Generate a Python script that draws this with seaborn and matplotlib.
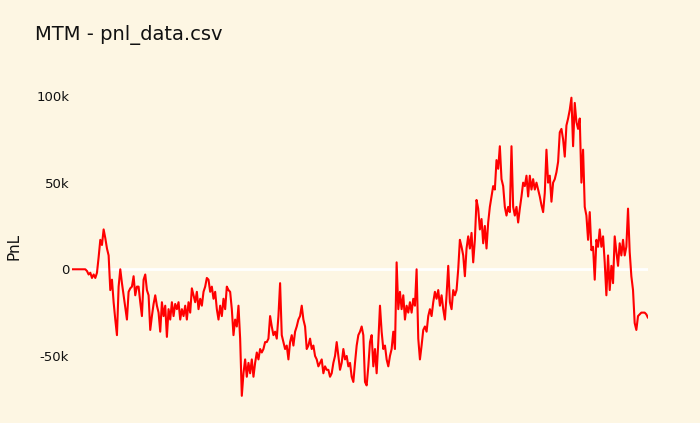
import numpy as np
import pandas as pd
import seaborn as sns
import matplotlib.pyplot as plt
from matplotlib.ticker import FuncFormatter

# PnL, in thousands, one value per step
seg1 = [0, 0, 0, 0, 0, 0, 0, 0, 0, -1, -3, -2, -5, -3, -5, -2,
        7, 17, 14, 23, 18, 12, 8, -12, -6, -19, -29, -38, -10, 0, -8,
        -15, -22, -29, -13, -11, -10, -4, -15, -10, -10, -19, -27, -6, -3, -12,
        -15, -35, -27, -20, -15, -21, -25, -36, -19, -27, -21, -39, -23, -29, -19,
        -27, -20, -23, -19, -29, -23, -27, -21, -29, -19, -25]
seg2 = [-11, -15, -19, -13, -23, -17, -21, -13, -10, -5, -6, -13, -10, -17, -13,
        -23, -29, -21, -27, -17, -23, -10, -12, -13, -23, -38, -29, -33, -21, -40,
        -73, -60, -52, -62, -54, -60, -52, -62, -54, -48, -52, -46, -48, -46, -42,
        -42, -40, -27, -33, -38, -36, -40, -27, -8, -38, -42, -46, -44, -52, -42,
        -38, -44, -36, -33, -29, -27, -21, -29, -33]
seg3 = [-46, -44, -40, -46, -44, -50, -52, -56, -54, -52, -60, -56, -58, -58, -62,
        -60, -54, -50, -42, -50, -58, -54, -46, -52, -50, -56, -54, -62, -65, -54,
        -44, -38, -36, -33, -38, -65, -67, -56, -42, -38, -56, -46, -60, -42, -21,
        -36, -46, -44, -52, -56, -50, -46, -36, -46, 4, -23, -13, -23, -15, -29,
        -21, -25, -19, -25, -17, -21, 0]
seg4 = [-40, -52, -44, -35, -33, -36, -27, -23, -27, -19, -13, -17, -12, -21, -15,
        -23, -29, -15, 2, -19, -23, -12, -15, -12, 0, 17, 13, 8, -4, 12,
        19, 12, 21, 4, 17, 40, 35, 23, 29, 15, 25, 12, 27, 36, 42,
        48, 46, 63, 58, 71, 52, 48, 36, 31, 36, 33, 71, 36, 31, 36,
        27, 35, 42, 50, 48, 54, 42, 54, 46, 52, 46]
seg5 = [50, 46, 42, 37, 33, 44, 69, 50, 54, 39, 50, 52, 56, 62, 79,
        81, 75, 65, 83, 87, 92, 99, 71, 96, 85, 81, 87, 50, 69, 36,
        31, 17, 33, 11, 13, -6, 17, 13, 23, 13, 19, 4, -15, 8, -12,
        2, -8, 19, 10, 2, 15, 8, 17, 8, 13, 35, 10, -4, -12, -31,
        -35, -27, -26, -25, -25, -25, -26, -28]

pnl_k = seg1 + seg2 + seg3 + seg4 + seg5
title = "MTM - pnl_data.csv"
y_ticks = [-50000, 0, 50000, 100000]

df = pd.DataFrame({"trade": np.arange(len(pnl_k)), "pnl": np.array(pnl_k) * 1000})

bg = "#fdf6e3"
sns.set_theme(style="white", rc={"figure.facecolor": bg, "axes.facecolor": bg})

fig = plt.figure(figsize=(7, 4.23), dpi=100)
ax = fig.add_axes([72 / 700, 1 - 405 / 423, 576 / 700, 317 / 423])

ax.axhline(0, color="white", lw=2, zorder=1)
sns.lineplot(data=df, x="trade", y="pnl", color="red", lw=1.5, ax=ax, zorder=2)

ax.set_xlim(df["trade"].min(), df["trade"].max())
ax.set_ylim(-78300, 104600)
ax.set_yticks(y_ticks)
ax.yaxis.set_major_formatter(FuncFormatter(lambda v, p: "0" if v == 0 else f"{v / 1000:.0f}k"))
ax.tick_params(axis="y", length=0, pad=2, labelsize=9.5, colors="#111111")
ax.set_xticks([])
ax.set_xlabel("")
ax.set_ylabel("PnL", fontsize=11, color="#111111")
ax.yaxis.set_label_coords(-0.088, 0.5)
sns.despine(ax=ax, left=True, bottom=True)

fig.text(35 / 700, 1 - 35 / 423, title, fontsize=14, va="center", ha="left", color="#111111")

fig.savefig("out.png", dpi=100, facecolor=bg)
